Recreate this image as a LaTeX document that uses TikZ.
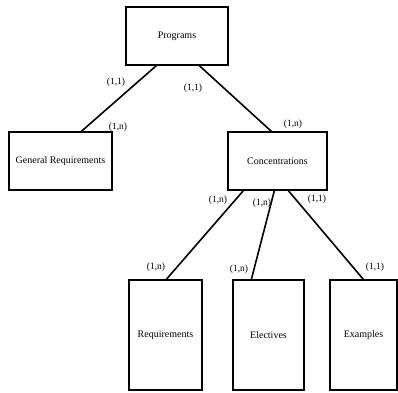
\documentclass[tikz,border=0pt]{standalone}
\usepackage{fontspec}
\setmainfont{Liberation Serif}
\usetikzlibrary{calc}
\begin{document}
\begin{tikzpicture}[x=1pt,y=-1pt,
  entity/.style={draw,line width=1.3pt,rectangle,inner sep=0pt,
    font=\fontsize{10}{12}\selectfont},
  link/.style={line width=1.6pt},
  card/.style={font=\fontsize{9.5}{11}\selectfont,inner sep=0pt}]
\useasboundingbox (0,0) rectangle (398,392);
% entities
\node[entity,minimum width=102pt,minimum height=58pt] (prog) at (177,36) {Programs};
\node[entity,minimum width=103pt,minimum height=58pt] (genreq) at (60.5,161) {General Requirements};
\node[entity,minimum width=99pt,minimum height=58pt] (conc) at (277.5,161) {Concentrations};
\node[entity,minimum width=73pt,minimum height=110pt] (req) at (165.5,335) {Requirements};
\node[entity,minimum width=71pt,minimum height=110pt] (elec) at (268.5,335) {Electives};
\node[entity,minimum width=67pt,minimum height=110pt] (ex) at (363.5,335) {Examples};
% relationships
\draw[link] ([xshift=31pt]prog.south west) -- ([xshift=73pt]genreq.north west);
\draw[link] ([xshift=74pt]prog.south west) -- ([xshift=44pt]conc.north west);
\draw[link] ([xshift=16pt]conc.south west) -- ([xshift=38pt]req.north west);
\draw[link] ([xshift=47pt]conc.south west) -- ([xshift=19pt]elec.north west);
\draw[link] ([xshift=61pt]conc.south west) -- ([xshift=34pt]ex.north west);
% cardinalities
\node[card] (c1) at (116,82) {(1,1)};
\node[card] (c2) at (193,88) {(1,1)};
\node[card] (c3) at (118,127) {(1,n)};
\node[card] (c4) at (293,124) {(1,n)};
\node[card] (c5) at (218,200) {(1,n)};
\node[card] (c6) at (262,203) {(1,n)};
\node[card] (c7) at (317,199) {(1,1)};
\node[card] (c8) at (156,267) {(1,n)};
\node[card] (c9) at (239,269) {(1,n)};
\node[card] (c10) at (375,267) {(1,1)};
\end{tikzpicture}
\end{document}
